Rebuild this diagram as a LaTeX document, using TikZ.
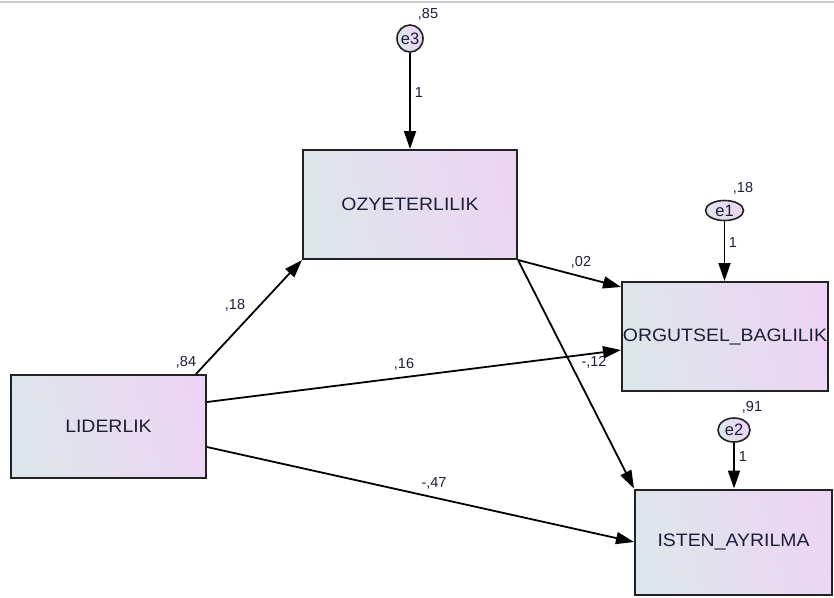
\documentclass[tikz,border=0pt]{standalone}
\usepackage{fontspec}
\setmainfont{Liberation Sans}
\newfontfamily\boxfont[FakeStretch=1.08]{Liberation Sans}
\usetikzlibrary{arrows.meta,shapes.geometric}
\definecolor{boxA}{RGB}{221,230,234}
\definecolor{boxB}{RGB}{236,213,244}
\definecolor{inkdark}{RGB}{28,30,56}
\definecolor{edgedark}{RGB}{34,34,34}
\begin{document}
\begin{tikzpicture}[x=1pt,y=-1pt,
  every node/.style={inner sep=0pt, text=inkdark},
  varbox/.style={rectangle, draw=edgedark, line width=2pt,
    top color=boxA, bottom color=boxB, shading angle=105,
    font=\boxfont\fontsize{18}{20}\selectfont},
  errnode/.style={ellipse, draw=edgedark, line width=1.6pt,
    top color=boxA, bottom color=boxB, shading angle=105,
    font=\fontsize{16.5}{17}\selectfont},
  coef/.style={font=\fontsize{14.5}{16}\selectfont},
  link/.style={draw=black, line width=1.8pt,
    -{Triangle[length=18pt,width=12pt]}}]

\useasboundingbox (0,0) rectangle (834,597);
% thin frame line along the top edge
\draw[black!20, line width=1.5pt] (0,2) -- (834,2);

% observed variables
\node[varbox, minimum width=195pt, minimum height=103pt] (lid) at (108.5,426.5) {LIDERLIK};
\node[varbox, minimum width=214pt, minimum height=109pt] (ozy) at (410,204.5) {OZYETERLILIK};
\node[varbox, minimum width=206pt, minimum height=109pt] (org) at (725,336.5) {ORGUTSEL\_BAGLILIK};
\node[varbox, minimum width=197pt, minimum height=105pt] (ist) at (733.5,542) {ISTEN\_AYRILMA};

% error terms
\node[errnode, minimum width=26pt, minimum height=27pt] (e3) at (410,38.5) {e3};
\node[errnode, minimum width=38pt, minimum height=20pt] (e1) at (724.5,210.5) {e1};
\node[errnode, minimum width=32pt, minimum height=24pt] (e2) at (734,430) {e2};

% anchor points on the box borders
\coordinate (lidtop) at ([xshift=-11pt]lid.north east);
\coordinate (lidhi) at ([yshift=24.5pt]lid.east);
\coordinate (lidlo) at ([yshift=-20.5pt]lid.east);
\coordinate (orghi) at ([yshift=-6pt]org.north west);
\coordinate (orglo) at ([yshift=-13.5pt]org.west);

% error paths
\draw[link] (e3.south) -- (ozy.north);
\draw[link] (e1.south) -- (e1 |- org.north);
\draw[link] (e2.south) -- (e2 |- ist.north);

% structural paths
\draw[link] (lidtop) -- (ozy.south west);
\draw[link] (lidhi) -- (orglo);
\draw[link] (lidlo) -- (ist.west);
\draw[link] (ozy.south east) -- (orghi);
\draw[link] (ozy.south east) -- (ist.north west);

% estimates
\node[coef] (v85) at (428,14) {,85};
\node[coef] (w3) at (419,93) {1};
\node[coef] (v18e) at (743,188) {,18};
\node[coef] (w1) at (733,243) {1};
\node[coef] (v91) at (752,407) {,91};
\node[coef] (w2) at (743,457) {1};
\node[coef] (v84) at (186,362) {,84};
\node[coef] (p18) at (235,305.5) {,18};
\node[coef] (p16) at (404,364) {,16};
\node[coef] (p02) at (581,262) {,02};
\node[coef] (p12) at (594,362) {-,12};
\node[coef] (p47) at (434,483) {-,47};
\end{tikzpicture}
\end{document}
